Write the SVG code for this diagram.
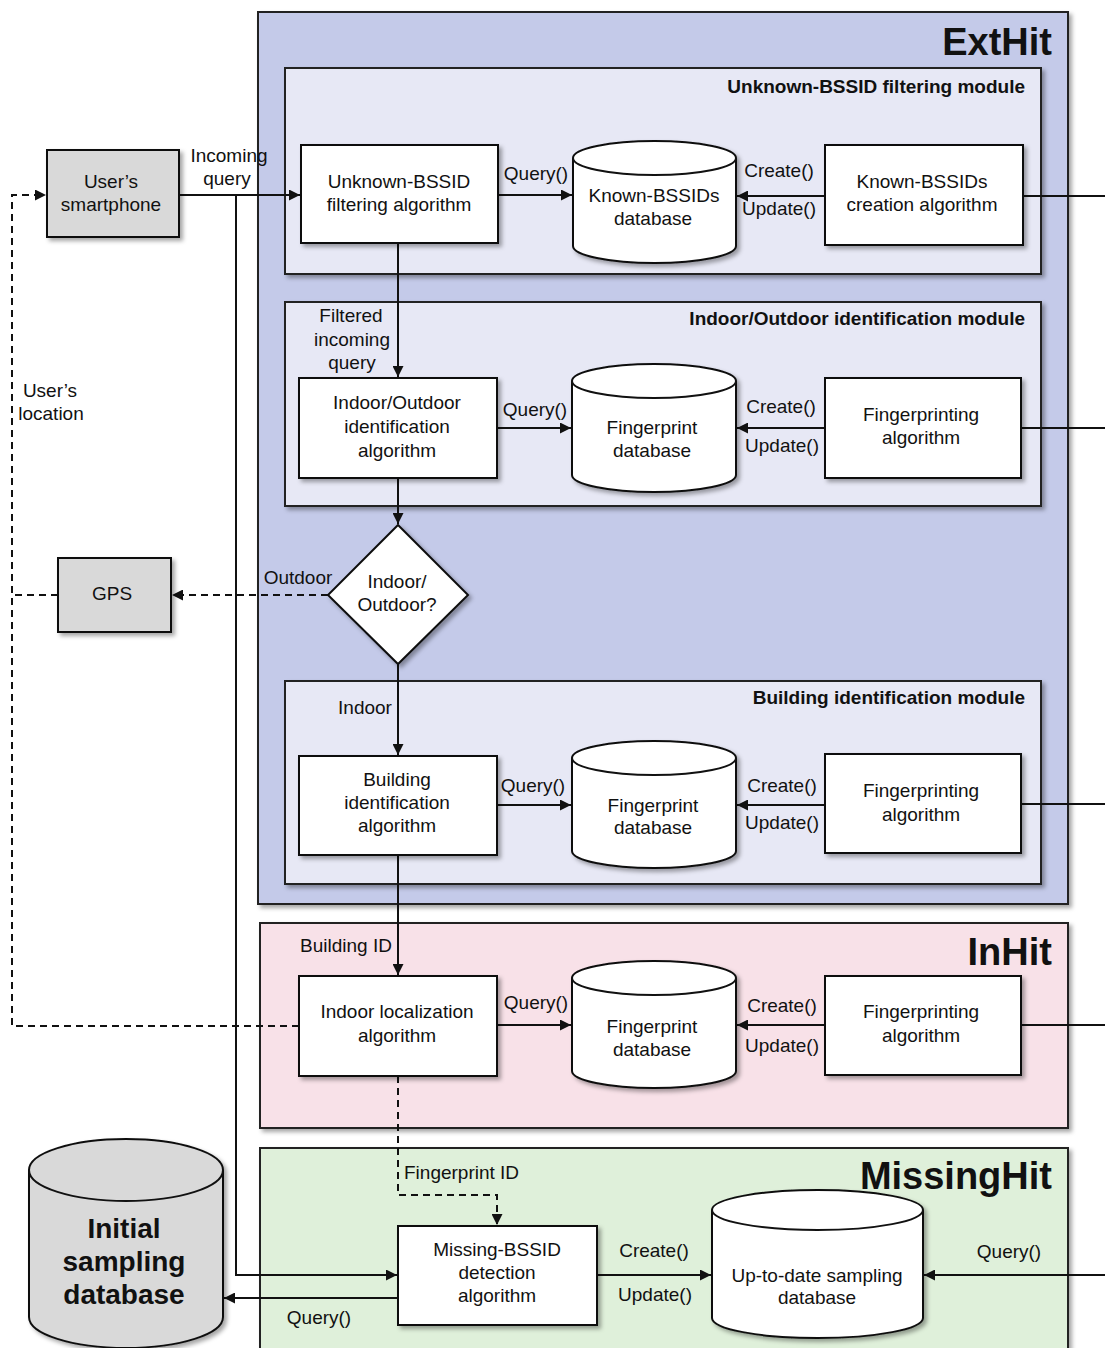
<svg xmlns="http://www.w3.org/2000/svg" width="1105" height="1348" viewBox="0 0 1105 1348">
<defs>
<style>
text{font-family:"Liberation Sans",Arial,sans-serif;font-size:19px;fill:#111;}
.c{text-anchor:middle;}
.r{text-anchor:end;}
.mt{font-weight:bold;font-size:19px;text-anchor:end;}
.bt{font-weight:bold;font-size:38px;text-anchor:end;}
.box{fill:#fff;stroke:#111;stroke-width:2;}
.gray{fill:#d9d9d9;stroke:#111;stroke-width:2;}
.cont{stroke:#222;stroke-width:2;}
.ln{fill:none;stroke:#111;stroke-width:2;}
.dash{fill:none;stroke:#111;stroke-width:2;stroke-dasharray:7,5;}
.sh{filter:url(#shadow);}
</style>
<filter id="shadow" x="-10%" y="-10%" width="130%" height="130%">
<feDropShadow dx="3" dy="3" stdDeviation="2" flood-color="#000" flood-opacity="0.35"/>
</filter>
<marker id="arr" viewBox="0 0 10 10" refX="10" refY="5" markerWidth="11" markerHeight="11" markerUnits="userSpaceOnUse" orient="auto">
<path d="M0,0 L10,5 L0,10 Z" fill="#111"/>
</marker>
</defs>
<rect width="1105" height="1348" fill="#fff"/>

<g id="containers">
<g id="exthit">
<rect class="cont sh" x="258" y="12" width="810" height="892" fill="#c4cae9"/>
<text class="bt" x="1052" y="55">ExtHit</text>
</g>
<g id="module-filter">
<rect class="cont sh" x="285" y="68" width="756" height="206" fill="#e7e8f5"/>
<text class="mt" x="1025" y="93">Unknown-BSSID filtering module</text>
</g>
<g id="module-io">
<rect class="cont sh" x="285" y="302" width="756" height="204" fill="#e7e8f5"/>
<text class="mt" x="1025" y="325">Indoor/Outdoor identification module</text>
</g>
<g id="module-building">
<rect class="cont sh" x="285" y="681" width="756" height="203" fill="#e7e8f5"/>
<text class="mt" x="1025" y="704">Building identification module</text>
</g>
<g id="inhit">
<rect class="cont sh" x="260" y="923" width="808" height="205" fill="#f8e1e8"/>
<text class="bt" x="1052" y="965">InHit</text>
</g>
<g id="missinghit">
<rect class="cont sh" x="260" y="1148" width="808" height="215" fill="#dff0da"/>
<text class="bt" x="1052" y="1189">MissingHit</text>
</g>
</g>

<g id="connectors">
<line class="ln" x1="179" y1="195" x2="300" y2="195" marker-end="url(#arr)"/>
<text class="c" x="229" y="162">Incoming</text>
<text class="c" x="227" y="185">query</text>
<polyline class="ln" points="236,195 236,1275 397,1275" marker-end="url(#arr)"/>
<line class="ln" x1="498" y1="195" x2="572" y2="195" marker-end="url(#arr)"/>
<text class="c" x="536" y="180">Query()</text>
<line class="ln" x1="825" y1="196" x2="737" y2="196" marker-end="url(#arr)"/>
<text class="c" x="779" y="177">Create()</text>
<text class="c" x="779" y="215">Update()</text>
<line class="ln" x1="1023" y1="196" x2="1105" y2="196"/>
<line class="ln" x1="398" y1="243" x2="398" y2="377" marker-end="url(#arr)"/>
<text class="c" x="351" y="322">Filtered</text>
<text class="c" x="352" y="346">incoming</text>
<text class="c" x="352" y="369">query</text>
<line class="ln" x1="497" y1="428" x2="571" y2="428" marker-end="url(#arr)"/>
<text class="c" x="535" y="416">Query()</text>
<line class="ln" x1="825" y1="428" x2="737" y2="428" marker-end="url(#arr)"/>
<text class="c" x="781" y="413">Create()</text>
<text class="c" x="782" y="452">Update()</text>
<line class="ln" x1="1021" y1="428" x2="1105" y2="428"/>
<line class="ln" x1="398" y1="478" x2="398" y2="524" marker-end="url(#arr)"/>
<line class="dash" x1="328" y1="595" x2="172" y2="595" marker-end="url(#arr)"/>
<text class="c" x="298" y="584">Outdoor</text>
<polyline class="dash" points="58,595 12,595"/>
<polyline class="dash" points="299,1026 12,1026 12,195 46,195" marker-end="url(#arr)"/>
<text class="c" x="50" y="397">User’s</text>
<text class="c" x="51" y="420">location</text>
<line class="ln" x1="398" y1="664" x2="398" y2="755" marker-end="url(#arr)"/>
<text class="c" x="365" y="714">Indoor</text>
<line class="ln" x1="497" y1="805" x2="571" y2="805" marker-end="url(#arr)"/>
<text class="c" x="533" y="792">Query()</text>
<line class="ln" x1="825" y1="805" x2="737" y2="805" marker-end="url(#arr)"/>
<text class="c" x="782" y="792">Create()</text>
<text class="c" x="782" y="829">Update()</text>
<line class="ln" x1="1021" y1="804" x2="1105" y2="804"/>
<line class="ln" x1="398" y1="855" x2="398" y2="975" marker-end="url(#arr)"/>
<text class="c" x="346" y="952">Building ID</text>
<line class="ln" x1="497" y1="1025" x2="571" y2="1025" marker-end="url(#arr)"/>
<text class="c" x="536" y="1009">Query()</text>
<line class="ln" x1="825" y1="1025" x2="737" y2="1025" marker-end="url(#arr)"/>
<text class="c" x="782" y="1012">Create()</text>
<text class="c" x="782" y="1052">Update()</text>
<line class="ln" x1="1021" y1="1025" x2="1105" y2="1025"/>
<polyline class="dash" points="398,1076 398,1195 497,1195 497,1225" marker-end="url(#arr)"/>
<text x="404" y="1179">Fingerprint ID</text>
<line class="ln" x1="597" y1="1275" x2="711" y2="1275" marker-end="url(#arr)"/>
<text class="c" x="654" y="1257">Create()</text>
<text class="c" x="655" y="1301">Update()</text>
<line class="ln" x1="1105" y1="1275" x2="924" y2="1275" marker-end="url(#arr)"/>
<text class="c" x="1009" y="1258">Query()</text>
<line class="ln" x1="398" y1="1298" x2="224" y2="1298" marker-end="url(#arr)"/>
<text class="c" x="319" y="1324">Query()</text>
</g>

<g id="smartphone">
<rect class="gray sh" x="47" y="150" width="132" height="87"/>
<text class="c" x="111" y="188">User’s</text>
<text class="c" x="111" y="211">smartphone</text>
</g>
<g id="gps">
<rect class="gray sh" x="58" y="558" width="113" height="74"/>
<text class="c" x="112" y="600">GPS</text>
</g>
<g id="filter-algo">
<rect class="box sh" x="301" y="145" width="197" height="98"/>
<text class="c" x="399" y="188">Unknown-BSSID</text>
<text class="c" x="399" y="211">filtering algorithm</text>
</g>
<g id="known-db">
<path class="box sh" d="M573,158 a81.5,17 0 0 1 163,0 v88 a81.5,17 0 0 1 -163,0 Z"/>
<path class="ln" d="M573,158 a81.5,17 0 0 0 163,0"/>
<text class="c" x="654" y="202">Known-BSSIDs</text>
<text class="c" x="653" y="225">database</text>
</g>
<g id="known-creation">
<rect class="box sh" x="825" y="145" width="198" height="100"/>
<text class="c" x="922" y="188">Known-BSSIDs</text>
<text class="c" x="922" y="211">creation algorithm</text>
</g>
<g id="io-algo">
<rect class="box sh" x="299" y="378" width="198" height="100"/>
<text class="c" x="397" y="409">Indoor/Outdoor</text>
<text class="c" x="397" y="433">identification</text>
<text class="c" x="397" y="457">algorithm</text>
</g>
<g id="fp-db-1">
<path class="box sh" d="M572,381 a82,17 0 0 1 164,0 v94 a82,17 0 0 1 -164,0 Z"/>
<path class="ln" d="M572,381 a82,17 0 0 0 164,0"/>
<text class="c" x="652" y="434">Fingerprint</text>
<text class="c" x="652" y="457">database</text>
</g>
<g id="fp-algo-1">
<rect class="box sh" x="825" y="378" width="196" height="100"/>
<text class="c" x="921" y="421">Fingerprinting</text>
<text class="c" x="921" y="444">algorithm</text>
</g>
<g id="decision">
<polygon class="box sh" points="398,525 468,595 398,664 328,595"/>
<text class="c" x="397" y="588">Indoor/</text>
<text class="c" x="397" y="611">Outdoor?</text>
</g>
<g id="building-algo">
<rect class="box sh" x="299" y="756" width="198" height="99"/>
<text class="c" x="397" y="786">Building</text>
<text class="c" x="397" y="809">identification</text>
<text class="c" x="397" y="832">algorithm</text>
</g>
<g id="fp-db-2">
<path class="box sh" d="M572,758 a82,17 0 0 1 164,0 v93 a82,17 0 0 1 -164,0 Z"/>
<path class="ln" d="M572,758 a82,17 0 0 0 164,0"/>
<text class="c" x="653" y="812">Fingerprint</text>
<text class="c" x="653" y="834">database</text>
</g>
<g id="fp-algo-2">
<rect class="box sh" x="825" y="754" width="196" height="99"/>
<text class="c" x="921" y="797">Fingerprinting</text>
<text class="c" x="921" y="821">algorithm</text>
</g>
<g id="indoor-loc">
<rect class="box sh" x="299" y="976" width="198" height="100"/>
<text class="c" x="397" y="1018">Indoor localization</text>
<text class="c" x="397" y="1042">algorithm</text>
</g>
<g id="fp-db-3">
<path class="box sh" d="M572,978 a82,17 0 0 1 164,0 v93 a82,17 0 0 1 -164,0 Z"/>
<path class="ln" d="M572,978 a82,17 0 0 0 164,0"/>
<text class="c" x="652" y="1033">Fingerprint</text>
<text class="c" x="652" y="1056">database</text>
</g>
<g id="fp-algo-3">
<rect class="box sh" x="825" y="976" width="196" height="99"/>
<text class="c" x="921" y="1018">Fingerprinting</text>
<text class="c" x="921" y="1042">algorithm</text>
</g>
<g id="initial-db">
<path class="gray sh" d="M29,1170 a97,31 0 0 1 194,0 v147 a97,31 0 0 1 -194,0 Z"/>
<path class="ln" d="M29,1170 a97,31 0 0 0 194,0"/>
<text class="c" x="124" y="1238" style="font-weight:bold;font-size:28px">Initial</text>
<text class="c" x="124" y="1271" style="font-weight:bold;font-size:28px">sampling</text>
<text class="c" x="124" y="1304" style="font-weight:bold;font-size:28px">database</text>
</g>
<g id="missing-algo">
<rect class="box sh" x="398" y="1226" width="199" height="99"/>
<text class="c" x="497" y="1256">Missing-BSSID</text>
<text class="c" x="497" y="1279">detection</text>
<text class="c" x="497" y="1302">algorithm</text>
</g>
<g id="uptodate-db">
<path class="box sh" d="M712,1210 a105.5,20 0 0 1 211,0 v108 a105.5,20 0 0 1 -211,0 Z"/>
<path class="ln" d="M712,1210 a105.5,20 0 0 0 211,0"/>
<text class="c" x="817" y="1282">Up-to-date sampling</text>
<text class="c" x="817" y="1304">database</text>
</g>
</svg>
